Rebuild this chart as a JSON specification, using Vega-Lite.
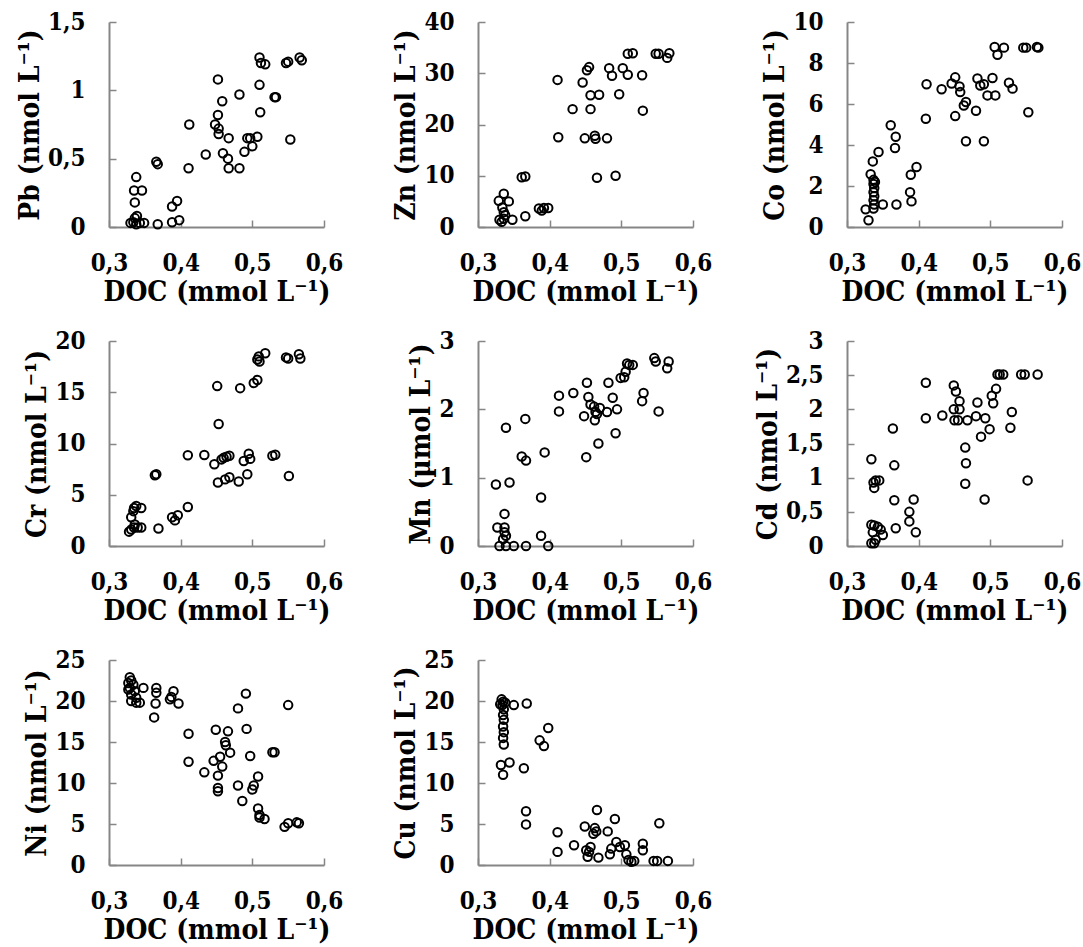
{
"$schema": "https://vega.github.io/schema/vega-lite/v6.json",
"padding": {"left": 16, "top": 10, "right": 5, "bottom": 5},
"background": "white",
"bounds": "flush",
"columns": 3,
"spacing": {"row": 114, "column": 154},
"datasets": {
"Pb": [{"x":0.330,"y":0.03},{"x":0.334,"y":0.035},{"x":0.336,"y":0.065},{"x":0.338,"y":0.02},{"x":0.343,"y":0.03},{"x":0.349,"y":0.03},{"x":0.338,"y":0.365},{"x":0.335,"y":0.267},{"x":0.346,"y":0.267},{"x":0.336,"y":0.18},{"x":0.339,"y":0.08},{"x":0.366,"y":0.478},{"x":0.368,"y":0.46},{"x":0.368,"y":0.02},{"x":0.388,"y":0.035},{"x":0.398,"y":0.05},{"x":0.388,"y":0.15},{"x":0.395,"y":0.19},{"x":0.411,"y":0.43},{"x":0.412,"y":0.75},{"x":0.435,"y":0.53},{"x":0.452,"y":1.08},{"x":0.452,"y":0.82},{"x":0.448,"y":0.75},{"x":0.453,"y":0.72},{"x":0.453,"y":0.68},{"x":0.458,"y":0.92},{"x":0.459,"y":0.54},{"x":0.467,"y":0.65},{"x":0.466,"y":0.50},{"x":0.467,"y":0.43},{"x":0.482,"y":0.97},{"x":0.482,"y":0.43},{"x":0.489,"y":0.55},{"x":0.493,"y":0.65},{"x":0.497,"y":0.65},{"x":0.50,"y":0.59},{"x":0.507,"y":0.66},{"x":0.51,"y":1.24},{"x":0.512,"y":1.2},{"x":0.518,"y":1.19},{"x":0.51,"y":1.04},{"x":0.511,"y":0.84},{"x":0.531,"y":0.95},{"x":0.533,"y":0.95},{"x":0.547,"y":1.2},{"x":0.55,"y":1.21},{"x":0.553,"y":0.64},{"x":0.566,"y":1.24},{"x":0.569,"y":1.22}],
"Zn": [{"x":0.336,"y":6.5},{"x":0.329,"y":5.1},{"x":0.343,"y":5.0},{"x":0.33,"y":1.4},{"x":0.336,"y":1.6},{"x":0.338,"y":2.3},{"x":0.336,"y":2.9},{"x":0.348,"y":1.4},{"x":0.334,"y":3.8},{"x":0.333,"y":1.0},{"x":0.366,"y":2.1},{"x":0.361,"y":9.7},{"x":0.366,"y":9.85},{"x":0.385,"y":3.6},{"x":0.392,"y":3.7},{"x":0.398,"y":3.7},{"x":0.389,"y":3.2},{"x":0.411,"y":28.7},{"x":0.412,"y":17.5},{"x":0.432,"y":23.0},{"x":0.446,"y":28.2},{"x":0.452,"y":30.6},{"x":0.455,"y":31.2},{"x":0.457,"y":23.0},{"x":0.457,"y":25.7},{"x":0.449,"y":17.3},{"x":0.463,"y":17.8},{"x":0.464,"y":17.2},{"x":0.469,"y":25.8},{"x":0.466,"y":9.6},{"x":0.48,"y":17.3},{"x":0.483,"y":31.0},{"x":0.487,"y":29.5},{"x":0.492,"y":10.0},{"x":0.497,"y":25.9},{"x":0.502,"y":31.0},{"x":0.509,"y":29.7},{"x":0.509,"y":33.8},{"x":0.516,"y":33.9},{"x":0.529,"y":29.6},{"x":0.530,"y":22.7},{"x":0.548,"y":33.8},{"x":0.552,"y":33.8},{"x":0.564,"y":33.0},{"x":0.567,"y":33.9}],
"Co": [{"x":0.330,"y":0.33},{"x":0.326,"y":0.86},{"x":0.333,"y":2.57},{"x":0.336,"y":3.2},{"x":0.344,"y":3.66},{"x":0.337,"y":2.3},{"x":0.337,"y":2.1},{"x":0.338,"y":1.9},{"x":0.337,"y":1.7},{"x":0.338,"y":1.5},{"x":0.337,"y":1.3},{"x":0.338,"y":1.1},{"x":0.337,"y":0.9},{"x":0.339,"y":2.2},{"x":0.35,"y":1.1},{"x":0.369,"y":1.1},{"x":0.361,"y":4.96},{"x":0.368,"y":4.4},{"x":0.367,"y":3.85},{"x":0.388,"y":1.7},{"x":0.39,"y":1.25},{"x":0.389,"y":2.55},{"x":0.397,"y":2.93},{"x":0.411,"y":6.96},{"x":0.41,"y":5.28},{"x":0.432,"y":6.72},{"x":0.446,"y":7.0},{"x":0.451,"y":7.3},{"x":0.451,"y":5.41},{"x":0.457,"y":6.86},{"x":0.458,"y":6.58},{"x":0.463,"y":5.93},{"x":0.466,"y":6.1},{"x":0.466,"y":4.18},{"x":0.48,"y":5.67},{"x":0.482,"y":7.24},{"x":0.486,"y":6.9},{"x":0.491,"y":6.96},{"x":0.491,"y":4.18},{"x":0.496,"y":6.42},{"x":0.503,"y":7.27},{"x":0.507,"y":6.42},{"x":0.506,"y":8.78},{"x":0.51,"y":8.4},{"x":0.519,"y":8.75},{"x":0.526,"y":7.04},{"x":0.531,"y":6.75},{"x":0.546,"y":8.75},{"x":0.55,"y":8.75},{"x":0.553,"y":5.6},{"x":0.565,"y":8.78},{"x":0.567,"y":8.75}],
"Cr": [{"x":0.328,"y":1.4},{"x":0.331,"y":1.6},{"x":0.335,"y":1.8},{"x":0.336,"y":2.1},{"x":0.331,"y":2.8},{"x":0.334,"y":3.4},{"x":0.335,"y":3.7},{"x":0.338,"y":3.9},{"x":0.345,"y":3.7},{"x":0.34,"y":1.8},{"x":0.345,"y":1.8},{"x":0.369,"y":1.7},{"x":0.364,"y":6.9},{"x":0.366,"y":7.0},{"x":0.388,"y":2.8},{"x":0.392,"y":2.5},{"x":0.396,"y":3.0},{"x":0.41,"y":3.8},{"x":0.41,"y":8.85},{"x":0.433,"y":8.88},{"x":0.447,"y":7.97},{"x":0.452,"y":6.2},{"x":0.451,"y":15.6},{"x":0.453,"y":11.9},{"x":0.457,"y":8.45},{"x":0.46,"y":8.6},{"x":0.464,"y":8.7},{"x":0.468,"y":8.8},{"x":0.462,"y":6.5},{"x":0.468,"y":6.7},{"x":0.481,"y":6.3},{"x":0.483,"y":15.4},{"x":0.488,"y":8.3},{"x":0.493,"y":7.0},{"x":0.495,"y":9.0},{"x":0.497,"y":8.5},{"x":0.502,"y":15.9},{"x":0.507,"y":16.2},{"x":0.507,"y":18.2},{"x":0.509,"y":18.5},{"x":0.51,"y":18.0},{"x":0.518,"y":18.8},{"x":0.528,"y":8.8},{"x":0.532,"y":8.9},{"x":0.547,"y":18.4},{"x":0.55,"y":18.3},{"x":0.551,"y":6.83},{"x":0.565,"y":18.7},{"x":0.567,"y":18.3}],
"Mn": [{"x":0.339,"y":1.73},{"x":0.325,"y":0.90},{"x":0.344,"y":0.93},{"x":0.337,"y":0.47},{"x":0.327,"y":0.27},{"x":0.337,"y":0.27},{"x":0.339,"y":0.15},{"x":0.335,"y":0.10},{"x":0.33,"y":0.0},{"x":0.339,"y":0.0},{"x":0.35,"y":0.0},{"x":0.337,"y":0.2},{"x":0.366,"y":1.86},{"x":0.361,"y":1.31},{"x":0.367,"y":1.25},{"x":0.367,"y":0.0},{"x":0.388,"y":0.71},{"x":0.388,"y":0.15},{"x":0.393,"y":1.37},{"x":0.398,"y":0.0},{"x":0.413,"y":2.2},{"x":0.413,"y":1.97},{"x":0.433,"y":2.24},{"x":0.452,"y":2.39},{"x":0.454,"y":2.18},{"x":0.448,"y":1.9},{"x":0.451,"y":1.3},{"x":0.457,"y":2.07},{"x":0.462,"y":2.04},{"x":0.464,"y":1.96},{"x":0.466,"y":1.93},{"x":0.463,"y":1.84},{"x":0.468,"y":1.5},{"x":0.47,"y":2.02},{"x":0.48,"y":1.96},{"x":0.482,"y":2.39},{"x":0.488,"y":2.17},{"x":0.492,"y":1.65},{"x":0.494,"y":2.0},{"x":0.499,"y":2.46},{"x":0.504,"y":2.47},{"x":0.506,"y":2.55},{"x":0.508,"y":2.67},{"x":0.511,"y":2.65},{"x":0.516,"y":2.65},{"x":0.531,"y":2.24},{"x":0.529,"y":2.12},{"x":0.546,"y":2.75},{"x":0.548,"y":2.7},{"x":0.552,"y":1.97},{"x":0.564,"y":2.6},{"x":0.566,"y":2.7}],
"Cd": [{"x":0.334,"y":1.27},{"x":0.337,"y":0.93},{"x":0.34,"y":0.96},{"x":0.345,"y":0.96},{"x":0.338,"y":0.85},{"x":0.334,"y":0.31},{"x":0.338,"y":0.3},{"x":0.343,"y":0.28},{"x":0.347,"y":0.24},{"x":0.35,"y":0.16},{"x":0.334,"y":0.04},{"x":0.338,"y":0.04},{"x":0.34,"y":0.09},{"x":0.336,"y":0.2},{"x":0.364,"y":1.72},{"x":0.366,"y":1.18},{"x":0.366,"y":0.67},{"x":0.368,"y":0.26},{"x":0.387,"y":0.5},{"x":0.387,"y":0.36},{"x":0.393,"y":0.68},{"x":0.396,"y":0.2},{"x":0.41,"y":2.39},{"x":0.41,"y":1.87},{"x":0.433,"y":1.91},{"x":0.449,"y":2.35},{"x":0.452,"y":2.26},{"x":0.449,"y":2.0},{"x":0.457,"y":2.0},{"x":0.455,"y":1.84},{"x":0.45,"y":1.84},{"x":0.457,"y":2.12},{"x":0.465,"y":1.44},{"x":0.466,"y":1.21},{"x":0.465,"y":0.91},{"x":0.468,"y":1.84},{"x":0.482,"y":2.1},{"x":0.48,"y":1.9},{"x":0.487,"y":1.6},{"x":0.492,"y":0.68},{"x":0.493,"y":1.87},{"x":0.499,"y":1.71},{"x":0.502,"y":2.2},{"x":0.504,"y":2.09},{"x":0.508,"y":2.3},{"x":0.51,"y":2.51},{"x":0.513,"y":2.51},{"x":0.518,"y":2.51},{"x":0.528,"y":1.73},{"x":0.53,"y":1.96},{"x":0.543,"y":2.51},{"x":0.548,"y":2.51},{"x":0.552,"y":0.96},{"x":0.566,"y":2.51}],
"Ni": [{"x":0.329,"y":22.9},{"x":0.331,"y":22.5},{"x":0.327,"y":22.2},{"x":0.334,"y":22.0},{"x":0.329,"y":21.6},{"x":0.336,"y":21.2},{"x":0.331,"y":20.8},{"x":0.338,"y":20.4},{"x":0.331,"y":20.0},{"x":0.338,"y":19.8},{"x":0.343,"y":19.8},{"x":0.327,"y":21.4},{"x":0.348,"y":21.6},{"x":0.363,"y":18.0},{"x":0.366,"y":21.6},{"x":0.366,"y":21.0},{"x":0.365,"y":19.7},{"x":0.387,"y":20.5},{"x":0.39,"y":21.2},{"x":0.385,"y":20.2},{"x":0.397,"y":19.7},{"x":0.411,"y":16.0},{"x":0.411,"y":12.6},{"x":0.433,"y":11.3},{"x":0.449,"y":16.5},{"x":0.446,"y":12.7},{"x":0.452,"y":10.9},{"x":0.452,"y":9.4},{"x":0.452,"y":9.0},{"x":0.455,"y":13.2},{"x":0.458,"y":12.0},{"x":0.462,"y":15.0},{"x":0.463,"y":14.6},{"x":0.466,"y":16.3},{"x":0.469,"y":13.7},{"x":0.48,"y":19.1},{"x":0.48,"y":9.7},{"x":0.486,"y":7.8},{"x":0.491,"y":20.9},{"x":0.492,"y":16.6},{"x":0.497,"y":13.3},{"x":0.5,"y":9.2},{"x":0.502,"y":9.7},{"x":0.508,"y":10.8},{"x":0.508,"y":6.9},{"x":0.51,"y":6.1},{"x":0.51,"y":5.8},{"x":0.517,"y":5.6},{"x":0.528,"y":13.75},{"x":0.531,"y":13.75},{"x":0.545,"y":4.65},{"x":0.55,"y":5.1},{"x":0.55,"y":19.5},{"x":0.562,"y":5.2},{"x":0.565,"y":5.1}],
"Cu": [{"x":0.333,"y":20.2},{"x":0.335,"y":19.9},{"x":0.334,"y":19.5},{"x":0.336,"y":19.0},{"x":0.335,"y":18.3},{"x":0.336,"y":17.7},{"x":0.335,"y":16.9},{"x":0.336,"y":16.2},{"x":0.335,"y":15.5},{"x":0.336,"y":14.7},{"x":0.331,"y":19.6},{"x":0.338,"y":19.8},{"x":0.35,"y":19.5},{"x":0.368,"y":19.7},{"x":0.332,"y":12.2},{"x":0.335,"y":11.0},{"x":0.344,"y":12.5},{"x":0.364,"y":11.8},{"x":0.367,"y":6.55},{"x":0.367,"y":4.95},{"x":0.386,"y":15.2},{"x":0.392,"y":14.5},{"x":0.398,"y":16.7},{"x":0.411,"y":4.0},{"x":0.411,"y":1.6},{"x":0.434,"y":2.4},{"x":0.449,"y":4.7},{"x":0.451,"y":1.8},{"x":0.453,"y":1.0},{"x":0.455,"y":1.6},{"x":0.463,"y":4.5},{"x":0.465,"y":4.1},{"x":0.461,"y":3.8},{"x":0.457,"y":2.2},{"x":0.466,"y":6.7},{"x":0.468,"y":0.9},{"x":0.481,"y":4.1},{"x":0.484,"y":1.3},{"x":0.486,"y":2.0},{"x":0.491,"y":5.6},{"x":0.493,"y":2.8},{"x":0.498,"y":2.2},{"x":0.505,"y":2.4},{"x":0.507,"y":1.3},{"x":0.51,"y":0.6},{"x":0.514,"y":0.4},{"x":0.518,"y":0.5},{"x":0.53,"y":2.6},{"x":0.53,"y":1.8},{"x":0.545,"y":0.5},{"x":0.55,"y":0.5},{"x":0.553,"y":5.1},{"x":0.565,"y":0.5}]
},
"concat": [
{"data": {"name": "Pb"}, "mark": {"type": "point", "shape": "circle", "filled": false, "color": "#000", "strokeWidth": 2, "size": 72, "opacity": 1},
 "encoding": {"x": {"field": "x", "type": "quantitative", "scale": {"domain": [0.3, 0.6], "nice": false, "zero": false}, "axis": {"values": [0.3, 0.4, 0.5, 0.6], "format": ".1f", "labelExpr": "replace(datum.label, '.', ',')", "title": "DOC (mmol L⁻¹)"}},
  "y": {"field": "y", "type": "quantitative", "scale": {"domain": [0, 1.5], "nice": false}, "axis": {"values": [0, 0.5, 1, 1.5], "format": "~f", "labelExpr": "replace(datum.label, '.', ',')", "title": "Pb (nmol L⁻¹)"}}}},
{"data": {"name": "Zn"}, "mark": {"type": "point", "shape": "circle", "filled": false, "color": "#000", "strokeWidth": 2, "size": 72, "opacity": 1},
 "encoding": {"x": {"field": "x", "type": "quantitative", "scale": {"domain": [0.3, 0.6], "nice": false, "zero": false}, "axis": {"values": [0.3, 0.4, 0.5, 0.6], "format": ".1f", "labelExpr": "replace(datum.label, '.', ',')", "title": "DOC (mmol L⁻¹)"}},
  "y": {"field": "y", "type": "quantitative", "scale": {"domain": [0, 40], "nice": false}, "axis": {"values": [0, 10, 20, 30, 40], "format": "~f", "title": "Zn (nmol L⁻¹)"}}}},
{"data": {"name": "Co"}, "mark": {"type": "point", "shape": "circle", "filled": false, "color": "#000", "strokeWidth": 2, "size": 72, "opacity": 1},
 "encoding": {"x": {"field": "x", "type": "quantitative", "scale": {"domain": [0.3, 0.6], "nice": false, "zero": false}, "axis": {"values": [0.3, 0.4, 0.5, 0.6], "format": ".1f", "labelExpr": "replace(datum.label, '.', ',')", "title": "DOC (mmol L⁻¹)"}},
  "y": {"field": "y", "type": "quantitative", "scale": {"domain": [0, 10], "nice": false}, "axis": {"values": [0, 2, 4, 6, 8, 10], "format": "~f", "title": "Co (nmol L⁻¹)"}}}},
{"data": {"name": "Cr"}, "mark": {"type": "point", "shape": "circle", "filled": false, "color": "#000", "strokeWidth": 2, "size": 72, "opacity": 1},
 "encoding": {"x": {"field": "x", "type": "quantitative", "scale": {"domain": [0.3, 0.6], "nice": false, "zero": false}, "axis": {"values": [0.3, 0.4, 0.5, 0.6], "format": ".1f", "labelExpr": "replace(datum.label, '.', ',')", "title": "DOC (mmol L⁻¹)"}},
  "y": {"field": "y", "type": "quantitative", "scale": {"domain": [0, 20], "nice": false}, "axis": {"values": [0, 5, 10, 15, 20], "format": "~f", "title": "Cr (nmol L⁻¹)"}}}},
{"data": {"name": "Mn"}, "mark": {"type": "point", "shape": "circle", "filled": false, "color": "#000", "strokeWidth": 2, "size": 72, "opacity": 1},
 "encoding": {"x": {"field": "x", "type": "quantitative", "scale": {"domain": [0.3, 0.6], "nice": false, "zero": false}, "axis": {"values": [0.3, 0.4, 0.5, 0.6], "format": ".1f", "labelExpr": "replace(datum.label, '.', ',')", "title": "DOC (mmol L⁻¹)"}},
  "y": {"field": "y", "type": "quantitative", "scale": {"domain": [0, 3], "nice": false}, "axis": {"values": [0, 1, 2, 3], "format": "~f", "title": "Mn (µmol L⁻¹)"}}}},
{"data": {"name": "Cd"}, "mark": {"type": "point", "shape": "circle", "filled": false, "color": "#000", "strokeWidth": 2, "size": 72, "opacity": 1},
 "encoding": {"x": {"field": "x", "type": "quantitative", "scale": {"domain": [0.3, 0.6], "nice": false, "zero": false}, "axis": {"values": [0.3, 0.4, 0.5, 0.6], "format": ".1f", "labelExpr": "replace(datum.label, '.', ',')", "title": "DOC (mmol L⁻¹)"}},
  "y": {"field": "y", "type": "quantitative", "scale": {"domain": [0, 3], "nice": false}, "axis": {"values": [0, 0.5, 1, 1.5, 2, 2.5, 3], "format": "~f", "labelExpr": "replace(datum.label, '.', ',')", "title": "Cd (nmol L⁻¹)"}}}},
{"data": {"name": "Ni"}, "mark": {"type": "point", "shape": "circle", "filled": false, "color": "#000", "strokeWidth": 2, "size": 72, "opacity": 1},
 "encoding": {"x": {"field": "x", "type": "quantitative", "scale": {"domain": [0.3, 0.6], "nice": false, "zero": false}, "axis": {"values": [0.3, 0.4, 0.5, 0.6], "format": ".1f", "labelExpr": "replace(datum.label, '.', ',')", "title": "DOC (mmol L⁻¹)"}},
  "y": {"field": "y", "type": "quantitative", "scale": {"domain": [0, 25], "nice": false}, "axis": {"values": [0, 5, 10, 15, 20, 25], "format": "~f", "title": "Ni (nmol L⁻¹)"}}}},
{"data": {"name": "Cu"}, "mark": {"type": "point", "shape": "circle", "filled": false, "color": "#000", "strokeWidth": 2, "size": 72, "opacity": 1},
 "encoding": {"x": {"field": "x", "type": "quantitative", "scale": {"domain": [0.3, 0.6], "nice": false, "zero": false}, "axis": {"values": [0.3, 0.4, 0.5, 0.6], "format": ".1f", "labelExpr": "replace(datum.label, '.', ',')", "title": "DOC (mmol L⁻¹)"}},
  "y": {"field": "y", "type": "quantitative", "scale": {"domain": [0, 25], "nice": false}, "axis": {"values": [0, 5, 10, 15, 20, 25], "format": "~f", "title": "Cu (nmol L⁻¹)"}}}}
],
"config": {
 "view": {"stroke": null, "continuousWidth": 215, "continuousHeight": 205},
 "font": "DejaVu Serif Condensed",
 "axis": {"domainColor": "#868686", "domainWidth": 2, "tickColor": "#868686", "tickWidth": 1.5, "tickSize": -7, "labelPadding": 31, "labelFont": "DejaVu Serif Condensed", "labelFontSize": 24, "labelFontWeight": "bold", "labelColor": "#000", "titleFont": "DejaVu Serif Condensed", "titleFontSize": 28, "titleFontWeight": "bold", "titleColor": "#000", "grid": false, "labelFlush": false, "labelOverlap": false, "titlePadding": 3}
}
}
